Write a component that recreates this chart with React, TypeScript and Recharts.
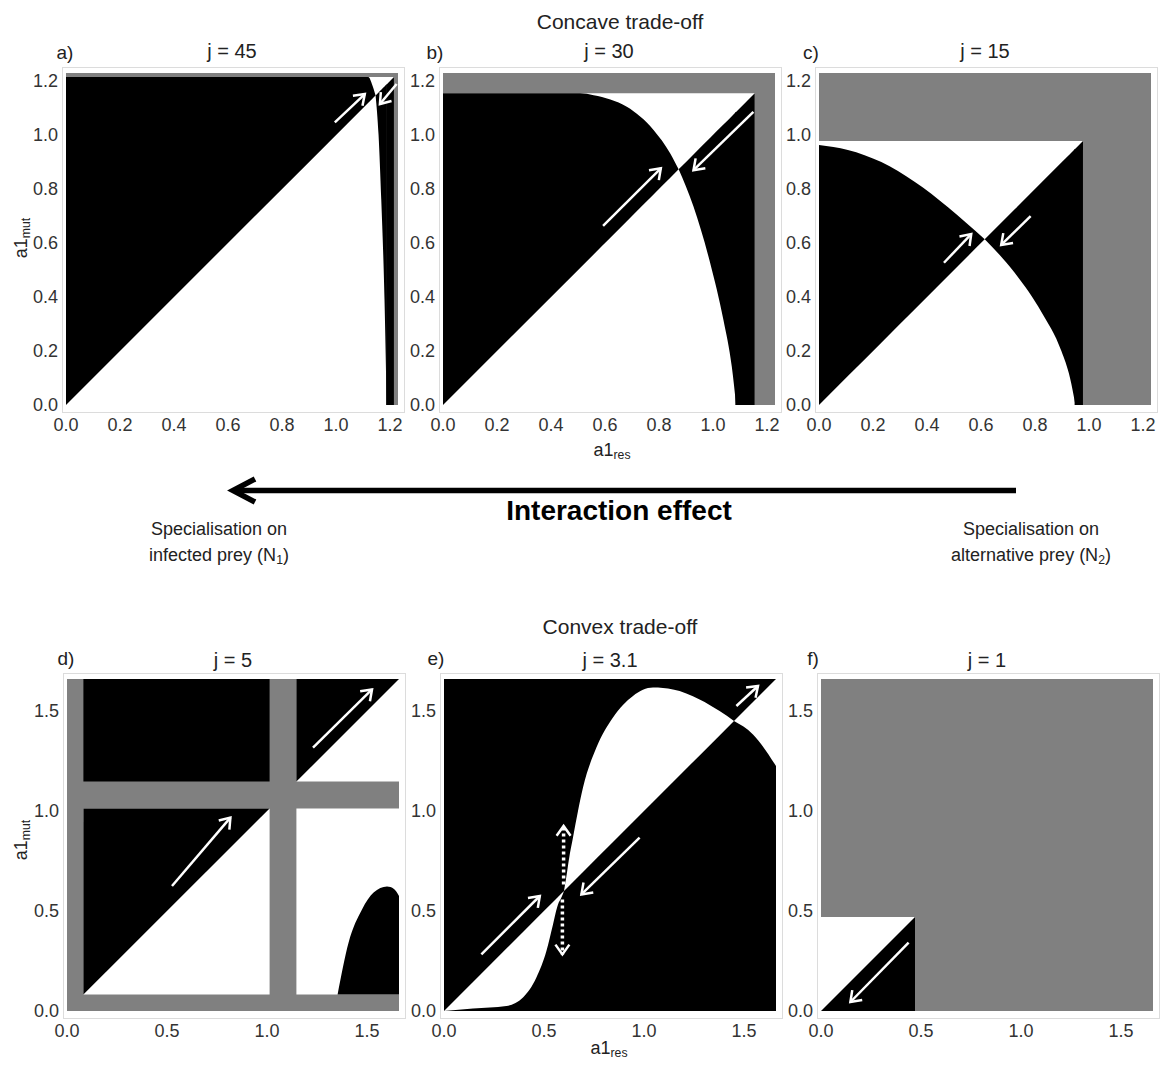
import React from "react";
import { Area, ComposedChart, Line, XAxis, YAxis } from "recharts";

type Pt = { x: number; r: [number, number] };
type Arrow = [number, number, number, number]; // x1, y1 -> x2, y2 (head at the end)

const FONT = "'Liberation Sans', Arial, Helvetica, sans-serif";
const BLACK = "#000000";
const GREY = "#808080";
const WHITE = "#ffffff";

const concaveTicks = [0, 0.2, 0.4, 0.6, 0.8, 1.0, 1.2];
const convexTicks = [0, 0.5, 1.0, 1.5];
const concaveMax = 1.23;
const convexMax = 1.66;

const box = (x0: number, x1: number, y0: number, y1: number): Pt[] => [
  { x: x0, r: [y0, y1] },
  { x: x1, r: [y0, y1] },
];

// a) j = 45
const aInner = 1.215;
const aAbove: Pt[] = [
  { x: 0, r: [0, 1.215] },
  { x: 1.12, r: [1.12, 1.215] },
  { x: 1.135, r: [1.135, 1.185] },
  { x: 1.147, r: [1.147, 1.147] },
];
const aBelow: Pt[] = [
  { x: 1.147, r: [1.147, 1.147] },
  { x: 1.158, r: [1.0, 1.158] },
  { x: 1.168, r: [0.76, 1.168] },
  { x: 1.18, r: [0.39, 1.18] },
  { x: 1.188, r: [0, 1.188] },
];
const aStrip: Pt[] = [
  { x: 1.186, r: [0, 1.186] },
  { x: 1.215, r: [0, 1.215] },
];
const aArrows: Arrow[] = [
  [0.996, 1.047, 1.107, 1.152],
  [1.225, 1.189, 1.163, 1.115],
];

// b) j = 30
const bInner = 1.155;
const bAbove: Pt[] = [
  { x: 0, r: [0, 1.155] },
  { x: 0.508, r: [0.508, 1.155] },
  { x: 0.558, r: [0.558, 1.148] },
  { x: 0.62, r: [0.62, 1.132] },
  { x: 0.681, r: [0.681, 1.105] },
  { x: 0.78, r: [0.78, 1.019] },
  { x: 0.842, r: [0.842, 0.932] },
  { x: 0.873, r: [0.873, 0.873] },
];
const bBelow: Pt[] = [
  { x: 0.873, r: [0.873, 0.873] },
  { x: 0.928, r: [0.735, 0.928] },
  { x: 0.99, r: [0.525, 0.99] },
  { x: 1.039, r: [0.315, 1.039] },
  { x: 1.07, r: [0.142, 1.07] },
  { x: 1.086, r: [0, 1.086] },
];
const bStrip: Pt[] = [
  { x: 1.083, r: [0, 1.083] },
  { x: 1.155, r: [0, 1.155] },
];
const bArrows: Arrow[] = [
  [0.593, 0.664, 0.807, 0.877],
  [1.15, 1.086, 0.928, 0.87],
];

// c) j = 15
const cInner = 0.978;
const cAbove: Pt[] = [
  { x: 0, r: [0, 0.963] },
  { x: 0.107, r: [0.107, 0.945] },
  { x: 0.231, r: [0.231, 0.9] },
  { x: 0.354, r: [0.354, 0.827] },
  { x: 0.478, r: [0.478, 0.733] },
  { x: 0.614, r: [0.614, 0.614] },
];
const cBelow: Pt[] = [
  { x: 0.614, r: [0.614, 0.614] },
  { x: 0.725, r: [0.49, 0.725] },
  { x: 0.824, r: [0.345, 0.824] },
  { x: 0.898, r: [0.2, 0.898] },
  { x: 0.93, r: [0.1, 0.93] },
  { x: 0.95, r: [0, 0.95] },
];
const cStrip: Pt[] = [
  { x: 0.947, r: [0, 0.947] },
  { x: 0.978, r: [0, 0.978] },
];
const cArrows: Arrow[] = [
  [0.463, 0.527, 0.564, 0.633],
  [0.784, 0.7, 0.675, 0.593],
];

// d) j = 5
const dLow = [0.082, 1.013];
const dHigh = [1.147, 1.66];
const dDiagLow: Pt[] = [
  { x: 0.082, r: [0.082, 1.013] },
  { x: 1.013, r: [1.013, 1.013] },
];
const dDiagHigh: Pt[] = [
  { x: 1.147, r: [1.147, 1.66] },
  { x: 1.66, r: [1.66, 1.66] },
];
const dBump: Pt[] = [
  { x: 1.353, r: [0.082, 0.082] },
  { x: 1.408, r: [0.082, 0.342] },
  { x: 1.475, r: [0.082, 0.508] },
  { x: 1.533, r: [0.082, 0.592] },
  { x: 1.6, r: [0.082, 0.622] },
  { x: 1.635, r: [0.082, 0.61] },
  { x: 1.66, r: [0.082, 0.575] },
];
const dArrows: Arrow[] = [
  [0.525, 0.625, 0.817, 0.967],
  [1.23, 1.317, 1.525, 1.608],
];

// e) j = 3.1
const eLowerLobe: Pt[] = [
  { x: 0, r: [0, 0] },
  { x: 0.145, r: [0.012, 0.145] },
  { x: 0.312, r: [0.025, 0.312] },
  { x: 0.395, r: [0.067, 0.395] },
  { x: 0.462, r: [0.167, 0.462] },
  { x: 0.512, r: [0.3, 0.512] },
  { x: 0.545, r: [0.433, 0.545] },
  { x: 0.57, r: [0.533, 0.57] },
  { x: 0.587, r: [0.567, 0.587] },
  { x: 0.6, r: [0.6, 0.6] },
];
const eUpperLobe: Pt[] = [
  { x: 0.6, r: [0.6, 0.6] },
  { x: 0.61, r: [0.61, 0.66] },
  { x: 0.625, r: [0.625, 0.76] },
  { x: 0.645, r: [0.645, 0.867] },
  { x: 0.67, r: [0.67, 1.0] },
  { x: 0.695, r: [0.695, 1.117] },
  { x: 0.762, r: [0.762, 1.317] },
  { x: 0.845, r: [0.845, 1.467] },
  { x: 0.945, r: [0.945, 1.575] },
  { x: 1.045, r: [1.045, 1.617] },
  { x: 1.145, r: [1.145, 1.608] },
  { x: 1.278, r: [1.278, 1.558] },
  { x: 1.378, r: [1.378, 1.5] },
  { x: 1.45, r: [1.45, 1.45] },
];
const eRightWedge: Pt[] = [
  { x: 1.45, r: [1.45, 1.45] },
  { x: 1.545, r: [1.383, 1.545] },
  { x: 1.66, r: [1.225, 1.66] },
];
const eArrows: Arrow[] = [
  [0.187, 0.283, 0.479, 0.575],
  [0.978, 0.867, 0.687, 0.583],
  [1.462, 1.525, 1.57, 1.625],
];
const eDotted: Arrow[] = [
  [0.598, 0.633, 0.598, 0.925],
  [0.592, 0.558, 0.592, 0.283],
];

// f) j = 1
const fInner = 0.47;
const fBelow: Pt[] = [
  { x: 0, r: [0, 0] },
  { x: 0.47, r: [0, 0.47] },
];
const fArrows: Arrow[] = [[0.438, 0.342, 0.147, 0.045]];

type Layer = { fill: string; data: Pt[] };
type PanelSpec = {
  tag: string;
  title: string;
  max: number;
  ticks: number[];
  left: number;
  top: number;
  size: number;
  layers: Layer[];
  arrows: Arrow[];
  dotted?: Arrow[];
};

const panels: PanelSpec[] = [
  {
    tag: "a)", title: "j = 45", max: concaveMax, ticks: concaveTicks, left: 66, top: 73, size: 332,
    layers: [
      { fill: GREY, data: box(0, concaveMax, 0, concaveMax) },
      { fill: WHITE, data: box(0, aInner, 0, aInner) },
      { fill: BLACK, data: aAbove },
      { fill: BLACK, data: aBelow },
      { fill: BLACK, data: aStrip },
    ],
    arrows: aArrows,
  },
  {
    tag: "b)", title: "j = 30", max: concaveMax, ticks: concaveTicks, left: 443, top: 73, size: 332,
    layers: [
      { fill: GREY, data: box(0, concaveMax, 0, concaveMax) },
      { fill: WHITE, data: box(0, bInner, 0, bInner) },
      { fill: BLACK, data: bAbove },
      { fill: BLACK, data: bBelow },
      { fill: BLACK, data: bStrip },
    ],
    arrows: bArrows,
  },
  {
    tag: "c)", title: "j = 15", max: concaveMax, ticks: concaveTicks, left: 819, top: 73, size: 332,
    layers: [
      { fill: GREY, data: box(0, concaveMax, 0, concaveMax) },
      { fill: WHITE, data: box(0, cInner, 0, cInner) },
      { fill: BLACK, data: cAbove },
      { fill: BLACK, data: cBelow },
      { fill: BLACK, data: cStrip },
    ],
    arrows: cArrows,
  },
  {
    tag: "d)", title: "j = 5", max: convexMax, ticks: convexTicks, left: 67, top: 679, size: 332,
    layers: [
      { fill: GREY, data: box(0, convexMax, 0, convexMax) },
      { fill: BLACK, data: box(dLow[0], dLow[1], dHigh[0], dHigh[1]) },
      { fill: WHITE, data: box(dLow[0], dLow[1], dLow[0], dLow[1]) },
      { fill: BLACK, data: dDiagLow },
      { fill: WHITE, data: box(dHigh[0], dHigh[1], dHigh[0], dHigh[1]) },
      { fill: BLACK, data: dDiagHigh },
      { fill: WHITE, data: box(dHigh[0], dHigh[1], dLow[0], dLow[1]) },
      { fill: BLACK, data: dBump },
    ],
    arrows: dArrows,
  },
  {
    tag: "e)", title: "j = 3.1", max: convexMax, ticks: convexTicks, left: 444, top: 679, size: 332,
    layers: [
      { fill: BLACK, data: box(0, convexMax, 0, convexMax) },
      { fill: WHITE, data: eLowerLobe },
      { fill: WHITE, data: eUpperLobe },
      { fill: WHITE, data: eRightWedge },
    ],
    arrows: eArrows,
    dotted: eDotted,
  },
  {
    tag: "f)", title: "j = 1", max: convexMax, ticks: convexTicks, left: 821, top: 679, size: 332,
    layers: [
      { fill: GREY, data: box(0, convexMax, 0, convexMax) },
      { fill: WHITE, data: box(0, fInner, 0, fInner) },
      { fill: BLACK, data: fBelow },
    ],
    arrows: fArrows,
  },
];

const fmt = (v: number) => v.toFixed(1);

// open chevron head for an arrow, in data units (both axes share one scale)
function chevron(a: Arrow, len: number) {
  const [x1, y1, x2, y2] = a;
  const t = Math.atan2(y2 - y1, x2 - x1);
  const s = 0.62;
  return [
    { x: x2 - len * Math.cos(t - s), y: y2 - len * Math.sin(t - s) },
    { x: x2, y: y2 },
    { x: x2 - len * Math.cos(t + s), y: y2 - len * Math.sin(t + s) },
  ];
}

function Panel({ p }: { p: PanelSpec }) {
  const padL = 60;
  const padT = 10;
  const padR = 10;
  const padB = 40;
  const head = 12 / (p.size / p.max);
  const tick = { fill: "#333", fontSize: 18, fontFamily: FONT };
  const arrowLine = (a: Arrow, key: string, dashed: boolean) => [
    <Line
      key={key + "s"}
      data={[{ x: a[0], y: a[1] }, { x: a[2], y: a[3] }]}
      dataKey="y"
      type="linear"
      stroke={WHITE}
      strokeWidth={dashed ? 3.5 : 2.5}
      strokeDasharray={dashed ? "3 3" : undefined}
      dot={false}
      activeDot={false}
      isAnimationActive={false}
    />,
    <Line
      key={key + "h"}
      data={chevron(a, head)}
      dataKey="y"
      type="linear"
      stroke={WHITE}
      strokeWidth={2.5}
      dot={false}
      activeDot={false}
      isAnimationActive={false}
    />,
  ];
  return (
    <div style={{ position: "absolute", left: p.left - padL, top: p.top - padT }}>
      <div
        style={{
          position: "absolute",
          left: padL - 4,
          top: padT - 6,
          width: p.size + 9,
          height: p.size + 12,
          border: "1px solid #dcdcdc",
        }}
      />
      <ComposedChart
        width={padL + p.size + padR}
        height={padT + p.size + padB}
        margin={{ top: padT, right: padR, bottom: 0, left: 0 }}
      >
        <XAxis
          type="number"
          dataKey="x"
          domain={[0, p.max]}
          ticks={p.ticks}
          interval={0}
          tickFormatter={fmt}
          axisLine={false}
          tickLine={false}
          tickSize={6}
          tickMargin={7}
          height={padB}
          tick={tick}
          allowDataOverflow
        />
        <YAxis
          type="number"
          domain={[0, p.max]}
          ticks={p.ticks}
          interval={0}
          tickFormatter={fmt}
          axisLine={false}
          tickLine={false}
          tickSize={4}
          tickMargin={4}
          width={padL}
          tick={tick}
          allowDataOverflow
        />
        {p.layers.map((l, i) => (
          <Area
            key={"l" + i}
            data={l.data}
            dataKey="r"
            type="monotone"
            fill={l.fill}
            fillOpacity={1}
            stroke="none"
            dot={false}
            activeDot={false}
            isAnimationActive={false}
          />
        ))}
        {p.arrows.map((a, i) => arrowLine(a, "a" + i, false))}
        {(p.dotted || []).map((a, i) => arrowLine(a, "d" + i, true))}
      </ComposedChart>
    </div>
  );
}

const text = (x: number, y: number, size: number, extra: React.CSSProperties = {}): React.CSSProperties => ({
  position: "absolute",
  left: x,
  top: y,
  transform: "translate(-50%, -50%)",
  fontFamily: FONT,
  fontSize: size,
  color: "#222",
  whiteSpace: "nowrap",
  lineHeight: 1,
  ...extra,
});

const sub: React.CSSProperties = { fontSize: "0.68em", verticalAlign: "-0.3em" };

export default function App() {
  return (
    <div style={{ position: "absolute", left: 0, top: 0, width: 1163, height: 1065, background: "#fff", overflow: "hidden" }}>
      {panels.map((p) => (
        <Panel key={p.tag} p={p} />
      ))}
      {panels.map((p) => (
        <React.Fragment key={"t" + p.tag}>
          <div style={text(p.left + p.size / 2, p.top < 300 ? 51 : 660, 20)}>{p.title}</div>
          <div style={text(p.left - (p.tag === "a)" || p.tag === "d)" ? 1 : 8), p.top < 300 ? 52 : 658, 19)}>{p.tag}</div>
        </React.Fragment>
      ))}

      <div style={text(620, 21, 21)}>Concave trade-off</div>
      <div style={text(620, 626, 21)}>Convex trade-off</div>

      <div style={text(612, 451, 18)}>
        a1<span style={sub}>res</span>
      </div>
      <div style={text(609, 1049, 18)}>
        a1<span style={sub}>res</span>
      </div>
      <div style={text(22, 238, 18, { transform: "translate(-50%, -50%) rotate(-90deg)" })}>
        a1<span style={sub}>mut</span>
      </div>
      <div style={text(22, 840, 18, { transform: "translate(-50%, -50%) rotate(-90deg)" })}>
        a1<span style={sub}>mut</span>
      </div>

      <svg width={1163} height={60} style={{ position: "absolute", left: 0, top: 460 }}>
        <line x1={1016} y1={30.5} x2={234} y2={30.5} stroke="#000" strokeWidth={5.5} />
        <polyline points="255,19 233,30.5 255,42" fill="none" stroke="#000" strokeWidth={5.5} />
      </svg>
      <div style={text(619, 511, 28, { fontWeight: 700, color: "#000" })}>Interaction effect</div>

      <div style={text(219, 529, 18)}>Specialisation on</div>
      <div style={text(219, 556, 18)}>
        infected prey (N<span style={sub}>1</span>)
      </div>
      <div style={text(1031, 529, 18)}>Specialisation on</div>
      <div style={text(1031, 556, 18)}>
        alternative prey (N<span style={sub}>2</span>)
      </div>
    </div>
  );
}
